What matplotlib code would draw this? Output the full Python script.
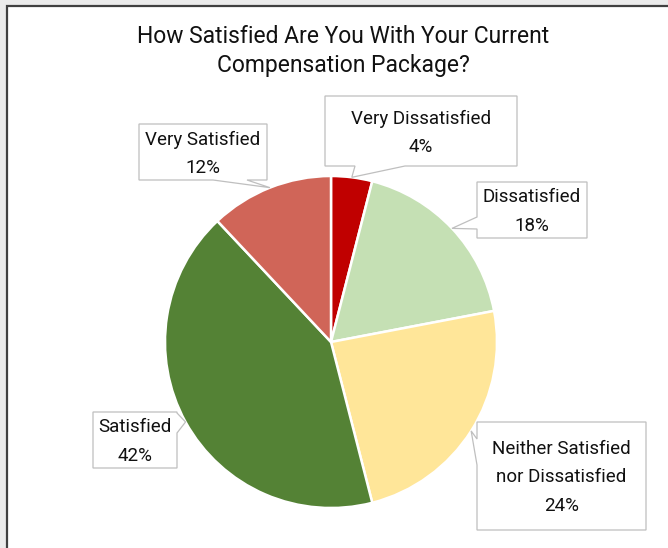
import matplotlib
matplotlib.use("Agg")
import matplotlib.pyplot as plt
from matplotlib.patches import Rectangle, Polygon
import numpy as np

# survey answers, clockwise from the top
categories = ["Very Dissatisfied", "Dissatisfied", "Neither Satisfied\nnor Dissatisfied",
              "Satisfied", "Very Satisfied"]
shares = [4, 18, 24, 42, 12]
colors = ["#C00000", "#C5E0B4", "#FFE699", "#548235", "#D06558"]

title = "How Satisfied Are You With Your Current\nCompensation Package?"

plt.rcParams['font.family'] = ['Roboto', 'DejaVu Sans']

W, H = 668, 548
fig = plt.figure(figsize=(W / 100, H / 100), dpi=100, facecolor="#EBEBEB")
ax = fig.add_axes([0, 0, 1, 1])

cx, cy, r = 331, 342, 166

# y axis runs downward (pixel style), so counterclock=True turns clockwise on screen
wedges, _ = ax.pie(shares, colors=colors, startangle=-90, counterclock=True,
                   center=(cx, cy), radius=r,
                   wedgeprops=dict(edgecolor="white", linewidth=1.8))
ax.set_xlim(0, W)
ax.set_ylim(H, 0)
ax.set_aspect("equal")
ax.set_axis_off()

# chart area: white panel with a dark border on the top and left
ax.add_patch(Rectangle((6.5, 6), W, H, facecolor="white", edgecolor="none", zorder=0))
ax.plot([6.5, 6.5, W], [H, 6, 6], color="#404040", lw=1.6, zorder=0.5,
        solid_joinstyle="miter")

ax.text(343, 51, title, ha="center", va="center", fontsize=16.5,
        linespacing=1.33, color="#111111")

# callout boxes: (x0, y0, x1, y1), side holding the pointer, span of its base
boxes = [
    ((325, 96, 517, 166), "bottom", (355, 405)),
    ((477, 182, 587, 238), "left", (217, 229)),
    ((477, 422, 646, 530), "left", (439, 465)),
    ((93, 412, 177, 468), "right", (413, 433)),
    ((139, 124, 267, 180), "bottom", (213, 247)),
]

for w, share, name, (box, side, span) in zip(wedges, shares, categories, boxes):
    mid = np.deg2rad((w.theta1 + w.theta2) / 2)
    tip = (cx + r * np.cos(mid), cy + r * np.sin(mid))
    x0, y0, x1, y1 = box
    a, b = span
    if side == "bottom":
        pts = [(x0, y0), (x1, y0), (x1, y1), (b, y1), tip, (a, y1), (x0, y1)]
    elif side == "left":
        pts = [(x0, y0), (x1, y0), (x1, y1), (x0, y1), (x0, b), tip, (x0, a)]
    else:
        pts = [(x0, y0), (x1, y0), (x1, a), tip, (x1, b), (x1, y1), (x0, y1)]
    ax.add_patch(Polygon(pts, closed=True, facecolor="white", edgecolor="#BFBFBF",
                         lw=0.9, zorder=3))
    ax.text((x0 + x1) / 2, (y0 + y1) / 2 + 1.5, f"{name}\n{share}%", ha="center",
            va="center", fontsize=13.5, linespacing=1.72, color="#111111", zorder=4)

fig.savefig("out.png", dpi=100, facecolor=fig.get_facecolor())
